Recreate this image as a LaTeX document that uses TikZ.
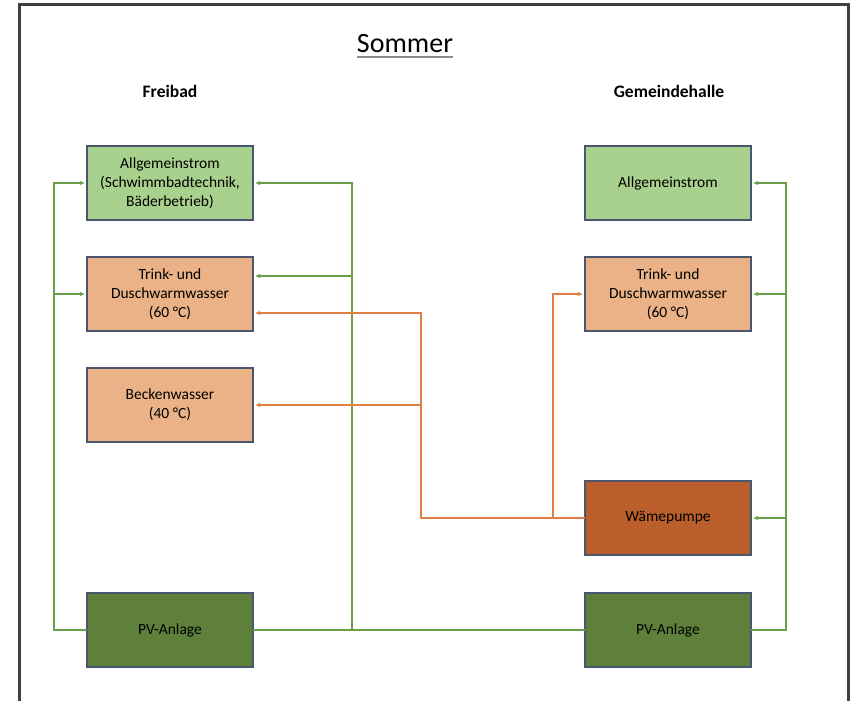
\documentclass[tikz,border=0pt]{standalone}
\usepackage{fontspec}
\setmainfont{Carlito}
\usetikzlibrary{arrows.meta, positioning, calc}

\definecolor{lightgrn}{HTML}{A9D18E}
\definecolor{peach}{HTML}{EAB286}
\definecolor{pumpbrown}{HTML}{BA5F2B}
\definecolor{pvgrn}{HTML}{5E803B}
\definecolor{linegrn}{HTML}{6A9E4A}
\definecolor{lineorg}{HTML}{E07E45}
\definecolor{boxedge}{HTML}{4A5670}

\begin{document}
\begin{tikzpicture}[
    x=1pt, y=-1pt,
    >={Latex[length=5pt,width=4.5pt]},
    every node/.style={align=center},
    box/.style={draw=boxedge, line width=1.2pt, outer sep=0pt,
                minimum width=166pt, minimum height=74pt,
                font=\fontsize{15.5}{19}\selectfont, inner sep=2pt},
    strom/.style={box, fill=lightgrn},
    wasser/.style={box, fill=peach},
    pumpe/.style={box, fill=pumpbrown},
    pv/.style={box, fill=pvgrn},
    grnwire/.style={draw=linegrn, line width=1.6pt},
    orgwire/.style={draw=lineorg, line width=1.6pt},
    head/.style={font=\fontsize{17.5}{20}\selectfont\bfseries, inner sep=0pt}
]
\useasboundingbox (0,0) rectangle (852,701);

% Frame (open at the bottom).
\draw[line width=3pt, black!75] (19.5,701) -- (19.5,5) -- (848,5) -- (848,701);

% Titles
\node[font=\fontsize{28}{32}\selectfont, inner sep=0pt, anchor=base] (title) 
   at (405,53) {Sommer};
\draw[line width=2.4pt, black!45] ($(title.base west)+(0,4)$) -- ($(title.base east)+(0,4)$);
\node[head, anchor=base] (freibad) at (170,98) {Freibad};
\node[head, anchor=base] (halle) at (669,98) {Gemeindehalle};

% 1) Freibad column.
\node[strom] (allgF) at (170,183) 
   {Allgemeinstrom\\(Schwimmbadtechnik,\\Bäderbetrieb)};
\node[wasser, below=37pt of allgF] (trinkF) {Trink- und\\Duschwarmwasser\\(60 °C)};
\node[wasser, below=37pt of trinkF] (beckF) {Beckenwasser\\(40 °C)};
\node[pv] (pvF) at (170,630) {PV-Anlage};

% 2) Gemeindehalle column.
\node[strom] (allgG) at (668,183) {Allgemeinstrom};
\node[wasser, below=37pt of allgG] (trinkG) {Trink- und\\Duschwarmwasser\\(60 °C)};
\node[pumpe, below=150pt of trinkG] (wp) {Wämepumpe};
\node[pv] (pvG) at (668,630) {PV-Anlage};

% Bus lines
\coordinate (busL) at (54,0);
\coordinate (busM) at (352,0);
\coordinate (busR) at (786,0);
\coordinate (busO) at (421,0);
\coordinate (busP) at (553,0);

% 3) Green: PV to consumers.
\draw[grnwire, ->, shorten >=2pt] (pvF.west) -| (busL|-allgF.west) -- (allgF.west);
\draw[grnwire, ->, shorten >=2pt] (busL|-trinkF.west) -- (trinkF.west);
\draw[grnwire] (pvF.east) -- (pvG.west);
\draw[grnwire, ->, shorten >=2pt] (busM|-pvF.east) -- (busM|-allgF.east) -- (allgF.east);
\draw[grnwire, ->, shorten >=2pt] ($(busM|-trinkF.east)+(0,-18)$) -- ($(trinkF.east)+(0,-18)$);
\draw[grnwire, ->, shorten >=2pt] (pvG.east) -| (busR|-allgG.east) -- (allgG.east);
\draw[grnwire, ->, shorten >=2pt] (busR|-trinkG.east) -- (trinkG.east);
\draw[grnwire, ->, shorten >=2pt] (busR|-wp.east) -- (wp.east);

% 4) Orange: heat from the pump.
\draw[orgwire, ->, shorten >=2pt] (wp.west) -- (busO|-wp.west) 
   |- ($(trinkF.east)+(0,19)$);
\draw[orgwire, ->, shorten >=2pt] (busO|-beckF.east) -- (beckF.east);
\draw[orgwire, ->, shorten >=2pt] (busP|-wp.west) |- (trinkG.west);

\end{tikzpicture}
\end{document}
